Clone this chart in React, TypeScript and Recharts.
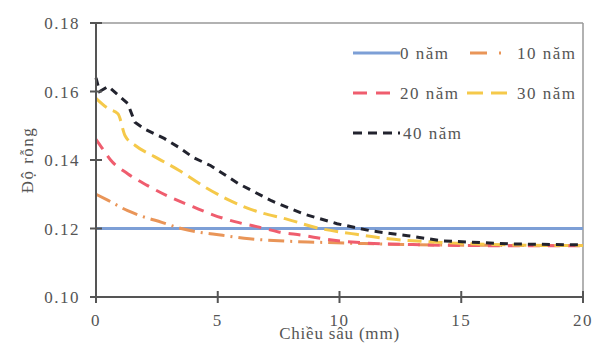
import React from "react";
import { LineChart, Line, XAxis, YAxis, ReferenceLine } from "recharts";

const xTicks = [0, 5, 10, 15, 20];
const yTicks = [0.1, 0.12, 0.14, 0.16, 0.18];

const depth0 = [0, 20];
const por0 = [0.12, 0.12];

const depth10 = [0, 0.5, 1.3, 1.8, 2.7, 3.5, 5.2, 6.3, 7.8, 9, 11, 14, 20];
const por10 = [0.13, 0.1282, 0.1252, 0.1238, 0.1218, 0.12, 0.118, 0.117, 0.1163, 0.116, 0.1156, 0.1152, 0.115];

const depth20 = [0, 0.25, 0.6, 1.3, 2.1, 3.0, 4.0, 4.8, 5.7, 6.7, 7.5, 8.5, 9.5, 11, 13, 16, 20];
const por20 = [0.146, 0.1435, 0.14, 0.136, 0.1326, 0.1293, 0.1263, 0.124, 0.122, 0.1204, 0.119, 0.118, 0.1168, 0.1158, 0.1153, 0.115, 0.115];

const depth30 = [0, 0.5, 0.9, 1.2, 1.6, 2.4, 3.4, 4.5, 5.4, 6.6, 7.8, 9.2, 10.5, 12, 14, 17, 20];
const por30 = [0.158, 0.155, 0.1535, 0.147, 0.1443, 0.141, 0.137, 0.132, 0.1285, 0.125, 0.1228, 0.12, 0.1185, 0.117, 0.116, 0.1152, 0.115];

const depth40 = [0, 0.15, 0.5, 0.9, 1.3, 1.6, 2.0, 2.8, 3.4, 4.0, 4.7, 5.85, 7.2, 8.5, 9.9, 11.3, 12.8, 14.2, 17, 20];
const por40 = [0.164, 0.16, 0.1615, 0.159, 0.1565, 0.151, 0.149, 0.1463, 0.1437, 0.1407, 0.1384, 0.1331, 0.1281, 0.1243, 0.1214, 0.1193, 0.1179, 0.1164, 0.1155, 0.1152];

const seriesNames = ["0 năm", "10 năm", "20 năm", "30 năm", "40 năm"];

const toData = (xs: number[], ys: number[]) => xs.map((x, i) => ({ x, y: ys[i] }));

const series = [
  { name: seriesNames[0], data: toData(depth0, por0), color: "#7d9fd6", dash: undefined as string | undefined, type: "linear" },
  { name: seriesNames[1], data: toData(depth10, por10), color: "#e99558", dash: "16 6 2 6", type: "monotone" },
  { name: seriesNames[2], data: toData(depth20, por20), color: "#ef5d6e", dash: "12 8", type: "monotone" },
  { name: seriesNames[3], data: toData(depth30, por30), color: "#f5c94a", dash: "14 7", type: "monotone" },
  { name: seriesNames[4], data: toData(depth40, por40), color: "#22232e", dash: "8 6", type: "linear" },
];

const FONT = "'Liberation Serif', 'DejaVu Serif', serif";
const FS = 17;
const TXT = "#555";

const LegendBox = () => {
  const entries = [
    { s: series[0], x: 13, y: 13, lw: 47, tx: 60, dash: undefined as string | undefined },
    { s: series[1], x: 130, y: 13, lw: 33, tx: 177, dash: "17 12 2 30" },
    { s: series[2], x: 13, y: 53, lw: 37, tx: 60, dash: "14 9" },
    { s: series[3], x: 127, y: 53, lw: 46, tx: 177, dash: "16 8" },
    { s: series[4], x: 13, y: 93, lw: 47, tx: 63, dash: "9 6" },
  ];
  return (
    <svg width={250} height={110} style={{ display: "block" }}>
      {entries.map((e, i) => (
        <g key={i}>
          <line
            x1={e.x}
            x2={e.x + e.lw}
            y1={e.y}
            y2={e.y}
            stroke={e.s.color}
            strokeWidth={3}
            strokeDasharray={e.dash}
          />
          <text x={e.tx} y={e.y + 6} fontFamily={FONT} fontSize={FS} letterSpacing={1.5} fill={TXT}>
            {e.s.name}
          </text>
        </g>
      ))}
    </svg>
  );
};

const XTick = (props: any) => {
  const { x, y, payload } = props;
  const axisY = y - 17;
  return (
    <g>
      <line x1={x} x2={x} y1={axisY - 6} y2={axisY + 6} stroke="#555" strokeWidth={2} />
      <text x={x} y={y} dy="0.71em" textAnchor="middle" fontFamily={FONT} fontSize={FS} letterSpacing={1.5} fill={TXT}>
        {payload.value}
      </text>
    </g>
  );
};

const YTick = (props: any) => {
  const { x, y, payload } = props;
  const axisX = x + 16;
  return (
    <g>
      <line x1={axisX - 6} x2={axisX + 6} y1={y} y2={y} stroke="#555" strokeWidth={2} />
      <text x={x} y={y} dy="0.355em" textAnchor="end" fontFamily={FONT} fontSize={FS} letterSpacing={1.5} fill={TXT}>
        {Number(payload.value).toFixed(2)}
      </text>
    </g>
  );
};

export default function App() {
  return (
    <div style={{ position: "absolute", left: 0, top: 0, width: 609, height: 343, background: "#fff" }}>
      <LineChart width={609} height={343} margin={{ top: 23, right: 26, left: 0, bottom: 0 }}>
        <ReferenceLine y={0.18} stroke="#999" strokeWidth={1.5} />
        <ReferenceLine x={20} stroke="#999" strokeWidth={1.5} />
        <XAxis
          type="number"
          dataKey="x"
          domain={[0, 20]}
          ticks={xTicks}
          height={46}
          axisLine={{ stroke: "#555", strokeWidth: 2 }}
          tickLine={false}
          tickSize={6}
          tickMargin={11}
          tick={<XTick />}
          label={{ value: "Chiều sâu (mm)", position: "insideBottom", offset: 4, fontSize: FS, fill: TXT, fontFamily: FONT, letterSpacing: 0.8 }}
          allowDuplicatedCategory={false}
        />
        <YAxis
          type="number"
          domain={[0.1, 0.18]}
          ticks={yTicks}
          width={96}
          axisLine={{ stroke: "#555", strokeWidth: 2 }}
          tickLine={false}
          tickSize={6}
          tickMargin={10}
          tick={<YTick />}
          label={{ value: "Độ rỗng", angle: -90, position: "insideLeft", offset: 27, fontSize: FS, fill: TXT, fontFamily: FONT, letterSpacing: 1.5, style: { textAnchor: "middle" } }}
        />
        {series.map((s) => (
          <Line
            key={s.name}
            data={s.data}
            dataKey="y"
            name={s.name}
            type={s.type as any}
            stroke={s.color}
            strokeWidth={3}
            strokeDasharray={s.dash}
            dot={false}
            activeDot={false}
            isAnimationActive={false}
          />
        ))}
      </LineChart>
      <div style={{ position: "absolute", left: 340, top: 40 }}>
        <LegendBox />
      </div>
    </div>
  );
}
